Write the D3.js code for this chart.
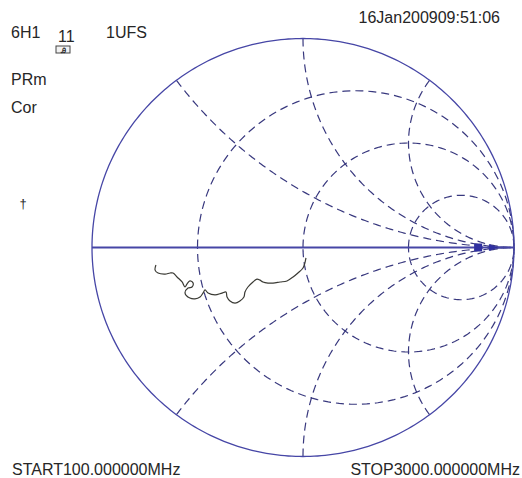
<!DOCTYPE html>
<html>
<head>
<meta charset="utf-8">
<script src="https://cdn.jsdelivr.net/npm/d3@7"></script>
<style>
  html, body { margin: 0; padding: 0; background: #ffffff; }
  svg { display: block; }
  text { font-family: "Liberation Sans", Arial, sans-serif; fill: #262626; }
</style>
</head>
<body>
<svg id="chart" width="522" height="478"></svg>
<script>
// Grid values of the Smith chart
const resistanceCircles = [1 / 3, 1, 3];
const reactanceArcs = [0.5, 1, 2, -0.5, -1, -2];

// Measured S11 trace, real and imaginary parts of the reflection coefficient
const traceRe = [-0.697, -0.701, -0.687, -0.654, -0.630, -0.616, -0.597, -0.573, -0.559,
  -0.550, -0.536, -0.521, -0.526, -0.545, -0.559, -0.536, -0.512, -0.488, -0.474, -0.464,
  -0.450, -0.417, -0.384, -0.365, -0.360, -0.346, -0.322, -0.299, -0.280, -0.275, -0.261,
  -0.237, -0.218, -0.204, -0.190, -0.166, -0.142, -0.109, -0.076, -0.047, -0.024, 0.000,
  0.009, 0.014];
const traceIm = [-0.084, -0.108, -0.122, -0.127, -0.122, -0.122, -0.141, -0.165, -0.189,
  -0.175, -0.160, -0.170, -0.189, -0.194, -0.218, -0.242, -0.246, -0.237, -0.218, -0.203,
  -0.218, -0.227, -0.218, -0.213, -0.237, -0.256, -0.266, -0.256, -0.237, -0.213, -0.189,
  -0.165, -0.151, -0.156, -0.165, -0.170, -0.170, -0.165, -0.160, -0.141, -0.122, -0.098,
  -0.074, -0.050];

// Marker positions on the real axis
const markerRe = [0.83, 0.905];

// Header and footer annotations
const headerLabels = ["6H1", "11", "1UFS"];
const sideLabels = ["PRm", "Cor"];
const dateLabel = "16Jan200909:51:06";
const startLabel = "START100.000000MHz";
const stopLabel = "STOP3000.000000MHz";

const svg = d3.select("#chart");
const x = d3.scaleLinear().domain([-1, 1]).range([92, 514]);
const y = d3.scaleLinear().domain([-1, 1]).range([456.5, 38.5]);
const line = d3.line().x(d => x(d[0])).y(d => y(d[1]));

const gridColor = "#38387e";
const frameColor = "#4646a6";

// Reflection coefficient of a normalised impedance r + jx
function gamma(r, xx) {
  const den = (r + 1) * (r + 1) + xx * xx;
  return [(r * r + xx * xx - 1) / den, (2 * xx) / den];
}

// Constant-resistance circles
resistanceCircles.forEach(r => {
  const c = r / (1 + r), R = 1 / (1 + r);
  const pts = d3.range(0, 361, 2).map(a => {
    const t = a * Math.PI / 180;
    return [c - R * Math.cos(t), R * Math.sin(t)];
  });
  svg.append("path").attr("d", line(pts))
    .attr("fill", "none").attr("stroke", gridColor)
    .attr("stroke-width", 1.2).attr("stroke-dasharray", "8,5");
});

// Constant-reactance arcs
reactanceArcs.forEach(xx => {
  const pts = d3.range(0, 0.999, 0.005).map(u => gamma(u / (1 - u), xx));
  pts.push([1, 0]);
  svg.append("path").attr("d", line(pts))
    .attr("fill", "none").attr("stroke", gridColor)
    .attr("stroke-width", 1.2).attr("stroke-dasharray", "8,5");
});

// Outer unit circle
const outer = d3.range(0, 361, 1).map(a => {
  const t = a * Math.PI / 180;
  return [Math.cos(t), Math.sin(t)];
});
svg.append("path").attr("d", line(outer))
  .attr("fill", "none").attr("stroke", frameColor).attr("stroke-width", 1.3);

// Real axis
svg.append("line")
  .attr("x1", x(-1)).attr("x2", x(1)).attr("y1", y(0)).attr("y2", y(0))
  .attr("stroke", frameColor).attr("stroke-width", 1.8);

// Markers
svg.append("rect")
  .attr("x", x(markerRe[0]) - 4).attr("y", y(0) - 4)
  .attr("width", 8).attr("height", 8).attr("fill", "#3030a0");
svg.append("path")
  .attr("d", `M${x(markerRe[1]) - 5},${y(0) - 3.5}L${x(markerRe[1]) + 4},${y(0)}L${x(markerRe[1]) - 5},${y(0) + 3.5}Z`)
  .attr("fill", "#3030a0");

// Trace
const trace = traceRe.map((v, i) => [v, traceIm[i]]);
svg.append("path").attr("d", d3.line().curve(d3.curveCatmullRom).x(d => x(d[0])).y(d => y(d[1]))(trace))
  .attr("fill", "none").attr("stroke", "#3a3a34").attr("stroke-width", 1.2);

// Annotations
svg.append("text").attr("x", 11).attr("y", 38).attr("font-size", 16).text(headerLabels[0]);
svg.append("text").attr("x", 58).attr("y", 42).attr("font-size", 16).text(headerLabels[1]);
svg.append("text").attr("x", 106).attr("y", 38).attr("font-size", 16).text(headerLabels[2]);
svg.append("rect").attr("x", 56).attr("y", 46).attr("width", 14).attr("height", 7)
  .attr("fill", "#f2f2f2").attr("stroke", "#444").attr("stroke-width", 1);
svg.append("text").attr("x", 63).attr("y", 52.5).attr("font-size", 7).attr("text-anchor", "middle")
  .attr("font-weight", "bold").text("Ꭿ");
svg.append("text").attr("x", 11).attr("y", 85).attr("font-size", 16).text(sideLabels[0]);
svg.append("text").attr("x", 11).attr("y", 113).attr("font-size", 16).text(sideLabels[1]);
svg.append("text").attr("x", 23).attr("y", 208).attr("font-size", 13).attr("text-anchor", "middle").text("†");
svg.append("text").attr("x", 500).attr("y", 23).attr("font-size", 16).attr("text-anchor", "end").text(dateLabel);
svg.append("text").attr("x", 12).attr("y", 474.5).attr("font-size", 16).text(startLabel);
svg.append("text").attr("x", 520).attr("y", 474.5).attr("font-size", 16).attr("text-anchor", "end").text(stopLabel);
</script>
</body>
</html>
